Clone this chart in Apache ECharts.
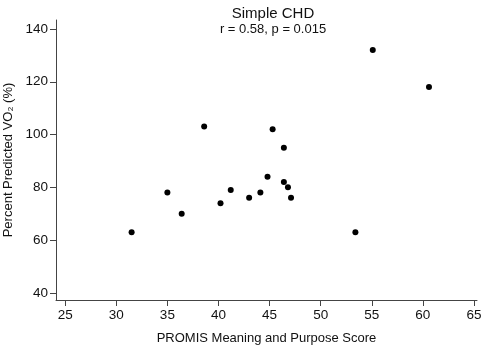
<!DOCTYPE html>
<html><head><meta charset="utf-8">
<script src="https://cdn.jsdelivr.net/npm/echarts@6/dist/echarts.min.js"></script>
<style>html,body{margin:0;padding:0;background:#fff}#c{width:486px;height:345px}</style>
</head><body><div id="c"></div>
<script>
const promisScore = [31.5, 35.0, 36.4, 38.6, 40.2, 41.2, 43.0, 44.1, 44.8, 45.3, 46.4, 46.4, 46.8, 47.1, 53.4, 55.1, 60.6];
const vo2Percent  = [63, 78, 70, 103, 74, 79, 76, 78, 84, 102, 95, 82, 80, 76, 63, 132, 118];
const xTicks = [25, 30, 35, 40, 45, 50, 55, 60, 65];
const yTicks = [40, 60, 80, 100, 120, 140];
const FONT = '"Liberation Sans", Arial, sans-serif';
const chart = echarts.init(document.getElementById('c'));
chart.setOption({
  backgroundColor: '#fff',
  animation: false,
  title: {
    text: 'Simple CHD',
    subtext: 'r = 0.58, p = 0.015',
    left: 268, top: 1, textAlign: 'center',
    itemGap: 2,
    textStyle: {fontFamily: FONT, fontSize: 15, fontWeight: 'normal', color: '#111'},
    subtextStyle: {fontFamily: FONT, fontSize: 13, color: '#111'}
  },
  grid: {left: 56, right: 9, top: 20, bottom: 45, containLabel: false, outerBoundsMode: 'none'},
  xAxis: {
    type: 'value', min: 24.1, max: 65.3,
    name: 'PROMIS Meaning and Purpose Score', nameLocation: 'middle', nameGap: 32,
    nameTextStyle: {fontFamily: FONT, fontSize: 13, color: '#111'},
    axisLine: {show: true, lineStyle: {color: '#444', width: 1}},
    axisTick: {show: true, length: 6, customValues: xTicks, lineStyle: {color: '#444'}},
    axisLabel: {customValues: xTicks, fontFamily: FONT, fontSize: 13.5, color: '#111', margin: 8},
    splitLine: {show: false}
  },
  yAxis: {
    type: 'value', min: 37.3, max: 143.4,
    name: 'Percent Predicted VO₂ (%)', nameLocation: 'middle', nameGap: 39,
    nameTextStyle: {fontFamily: FONT, fontSize: 13, color: '#111'},
    axisLine: {show: true, lineStyle: {color: '#444', width: 1}},
    axisTick: {show: true, length: 6, customValues: yTicks, lineStyle: {color: '#444'}},
    axisLabel: {customValues: yTicks, fontFamily: FONT, fontSize: 13.5, color: '#111', margin: 8},
    splitLine: {show: false}
  },
  series: [{
    type: 'scatter',
    data: promisScore.map((x, i) => [x, vo2Percent[i]]),
    symbol: 'circle', symbolSize: 6,
    itemStyle: {color: '#000', opacity: 1}
  }]
});
</script></body></html>
